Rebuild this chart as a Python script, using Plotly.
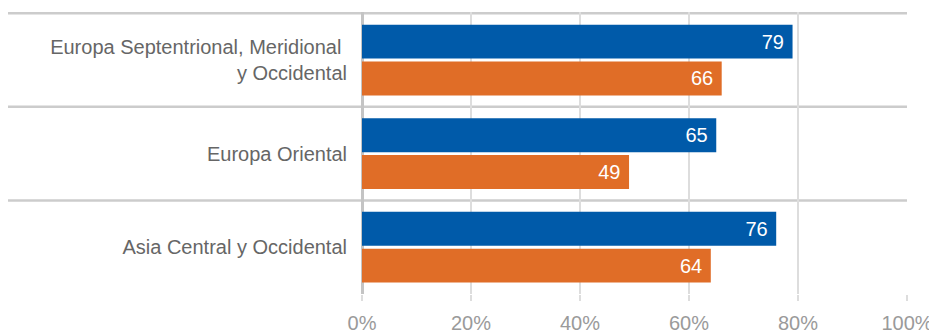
import plotly.graph_objects as go

categories = ["Europa Septentrional, Meridional\u00a0<br>y Occidental", "Europa Oriental", "Asia Central y Occidental"]
series_blue = [79, 65, 76]
series_orange = [66, 49, 64]
x_ticks = [0, 20, 40, 60, 80, 100]
x_tick_labels = ["0%", "20%", "40%", "60%", "80%", "100%"]

BLUE = "#005aa9"
ORANGE = "#e06d27"
FONT = "Liberation Sans, Arial, sans-serif"

fig = go.Figure()
for vals, col in [(series_blue, BLUE), (series_orange, ORANGE)]:
    fig.add_trace(go.Bar(
        y=categories, x=vals, orientation="h", marker=dict(color=col, line=dict(width=0)),
        text=[str(v) + "\u00a0" for v in vals], textposition="inside", insidetextanchor="end",
        textfont=dict(color="white", size=20, family=FONT), cliponaxis=False,
        hoverinfo="skip",
    ))

shapes = []
# horizontal separators extending to the left over the labels
for yv in [-0.5, 0.5, 1.5]:
    shapes.append(dict(type="line", xref="paper", yref="y", x0=-0.651, x1=1.0, y0=yv, y1=yv,
                       line=dict(color="#cccccc", width=2.5), layer="below"))

fig.update_layout(
    width=929, height=325,
    margin=dict(l=354, r=30, t=4, b=39, autoexpand=False),
    paper_bgcolor="white", plot_bgcolor="white",
    barmode="group", bargap=0.213, bargroupgap=0.081,
    showlegend=False,
    shapes=shapes,
    xaxis=dict(range=[0, 100], tickvals=x_ticks, ticktext=x_tick_labels,
               showgrid=True, gridcolor="#dddddd", gridwidth=1.5,
               zeroline=True, zerolinecolor="#c4c4c4", zerolinewidth=3,
               ticks="outside", ticklen=6, tickcolor="#dddddd", tickwidth=1.5,
               ticklabelstandoff=5,
               tickfont=dict(family=FONT, size=20, color="#9a9a9a"),
               showline=False, fixedrange=True, automargin=False),
    yaxis=dict(autorange="reversed", showgrid=False, zeroline=False, showline=False,
               ticks="", ticklabelstandoff=14, automargin=False,
               tickfont=dict(family=FONT, size=20, color="#666666"), fixedrange=True),
)

fig.write_html("out.html")
